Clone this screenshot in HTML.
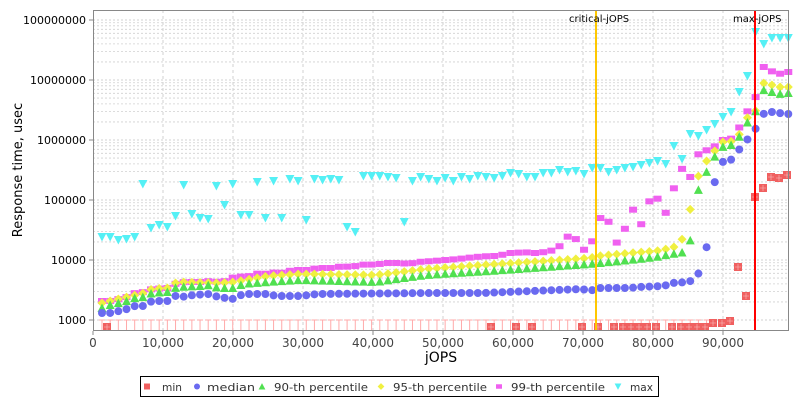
<!DOCTYPE html>
<html><head><meta charset="utf-8"><style>
body{margin:0;background:#fff;width:800px;height:400px;overflow:hidden}
text{font-family:"DejaVu Sans","Liberation Sans",sans-serif}
</style></head><body>
<svg id="s" width="800" height="400" xmlns="http://www.w3.org/2000/svg">
<rect x="93" y="10" width="696" height="321" fill="#fff"/>
<g id="grid"></g>
<g id="pts"></g>
<line x1="596" y1="10" x2="596" y2="331" stroke="#ffc800" stroke-width="2"/>
<line x1="755" y1="10" x2="755" y2="331" stroke="#f00" stroke-width="2"/>
<text x="569" y="22" font-size="10">critical-jOPS</text>
<text x="733" y="22" font-size="10">max-jOPS</text>
<rect x="93.5" y="10.5" width="695" height="320" fill="none" stroke="#888"/>
<text transform="translate(22,170) rotate(-90)" font-size="13" text-anchor="middle">Response time, usec</text>
<text x="441" y="362" font-size="14" text-anchor="middle">jOPS</text>
<rect x="140.5" y="376.5" width="518" height="20" fill="#fff" stroke="#000"/>
<g id="leg" font-size="11" fill="#333"></g>
</svg>
<script>
const NS="http://www.w3.org/2000/svg";
function el(p,t,a){const e=document.createElementNS(NS,t);for(const k in a)e.setAttribute(k,a[k]);p.appendChild(e);return e;}
const g=document.getElementById('grid'),P=document.getElementById('pts'),s=document.getElementById('s'),L=document.getElementById('leg');
for(let d=3;d<=8;d++){const yb=20+(8-d)*60;
 for(let m=1;m<10;m++){const y=yb-Math.log10(m)*60; if(y<10)break;
  el(g,'line',{x1:93,x2:789,y1:y,y2:y,stroke:'#d0d0d0','stroke-dasharray':'2,2','stroke-width':m==1?1:0.8});}
 el(g,'line',{x1:89,x2:93,y1:yb,y2:yb,stroke:'#888'});
 const t=el(s,'text',{x:86,y:yb+4,'font-size':11,'text-anchor':'end'});t.textContent=String(Math.pow(10,d));}
for(let k=0;k<=9;k++){const x=93+k*70;
 if(k>0)el(g,'line',{x1:x,x2:x,y1:10,y2:331,stroke:'#d0d0d0','stroke-dasharray':'3,3'});
 el(g,'line',{x1:x,x2:x,y1:331,y2:335,stroke:'#888'});
 const t=el(s,'text',{x:x,y:347,'font-size':12,'text-anchor':'middle',fill:'#444'});t.textContent=k==0?'0':(k*10)+',000';}
const X=[];for(let i=0;i<85;i++)X.push(102+i*8.17);
function interp(kp,x){if(x<=kp[0][0])return kp[0][1];for(let i=1;i<kp.length;i++)if(x<=kp[i][0]){const a=kp[i-1],b=kp[i];return a[1]+(b[1]-a[1])*(x-a[0])/(b[0]-a[0]);}return kp[kp.length-1][1];}
const med=[[102,313],[110,313],[119,311],[127,309],[135,306],[144,306],[152,301],[168,301],[177,295],[185,297],[193,295],[210,294],[218,297],[234,299],[243,294],[268,294],[276,296],[301,296],[317,294],[433,293],[483,293],[532,291],[582,289],[590,291],[598,288],[630,288],[639,287],[664,286],[672,283],[689,282],[697,276],[705,262],[713,187],[722,162],[730,161],[738,151],[747,140],[755,130],[763,114],[772,112],[779,113],[787,114]];
const g90=[[102,308],[110,305],[119,303],[127,301],[135,298],[144,297],[152,293],[168,292],[177,287],[201,286],[210,285],[218,288],[234,288],[243,284],[268,282],[301,280],[376,282],[426,275],[490,271],[590,264],[630,260],[656,257],[672,254],[681,253],[689,249],[697,193],[705,175],[713,159],[722,147],[730,146],[738,139],[747,123],[755,113],[763,90],[772,92],[779,94],[787,93]];
const g95=[[102,303],[110,301],[127,297],[144,293],[152,289],[168,288],[177,282],[218,283],[234,282],[268,276],[301,274],[376,275],[426,269],[483,265],[590,258],[598,256],[630,253],[656,251],[672,248],[681,243],[689,215],[697,179],[705,163],[713,153],[722,142],[730,142],[738,137],[747,118],[755,113],[763,83],[772,85],[780,87],[787,87]];
const g99=[[102,301],[110,301],[119,299],[127,297],[135,293],[144,292],[152,289],[168,288],[177,283],[185,282],[201,282],[210,281],[218,282],[226,281],[234,277],[251,276],[259,273],[268,274],[276,272],[284,273],[292,270],[309,270],[317,268],[334,268],[342,266],[350,267],[367,264],[375,265],[384,263],[400,263],[409,264],[417,262],[433,261],[458,259],[475,257],[490,256],[499,256],[507,253],[516,253],[523,252],[532,253],[540,253],[548,251],[557,250],[565,238],[573,234],[582,250],[590,249],[598,221],[606,211],[614,245],[623,237],[631,202],[639,232],[647,204],[656,194],[664,218],[672,194],[681,167],[689,181],[697,155],[705,151],[714,147],[722,140],[730,140],[738,130],[747,112],[755,100],[762,66],[771,71],[779,74],[787,72]];
const maxY=[237,237,240,239,237,184,228,225,227,216,185,214,218,219,186,205,184,215,215,182,218,181,218,179,181,220,179,180,179,180,227,232,176,176,176,177,178,222,181,177,179,181,178,181,177,179,176,177,178,176,173,174,177,177,173,173,170,172,171,174,168,168,172,170,168,167,165,163,161,164,146,159,134,136,130,124,117,112,92,76,32,44,38,38,38];
function mark(p,x,y,c,t,k){k=k||1;
 if(t=='c')el(p,'circle',{cx:x,cy:y,r:4*k,fill:c});
 else if(t=='sq')el(p,'rect',{x:x-4*k,y:y-3*k,width:8*k,height:6*k,fill:c});
 else if(t=='up')el(p,'path',{d:`M${x},${y-4.5*k}L${x+4.5*k},${y+4*k}L${x-4.5*k},${y+4*k}Z`,fill:c});
 else if(t=='tri')el(p,'path',{d:`M${x-4.5*k},${y-4*k}L${x+4.5*k},${y-4*k}L${x},${y+4.5*k}Z`,fill:c});
 else if(t=='dia')el(p,'path',{d:`M${x},${y-4.5*k}L${x+4.5*k},${y}L${x},${y+4.5*k}L${x-4.5*k},${y}Z`,fill:c});
 else if(t=='min'){el(p,'rect',{x:x-4*k,y:y-4*k,width:8*k,height:8*k,fill:c});if(k==1)el(p,'path',{d:`M${x-3},${y}H${x+3}M${x},${y-3}V${y+3}`,stroke:'#fff','stroke-width':0.6,opacity:0.6});}
}
for(let i=0;i<85;i++){const x=X[i];if(x>714)break;
 el(P,'path',{d:`M${x-3},320H${x+3}M${x},320V331`,stroke:'#ffaaaa','stroke-width':1,fill:'none'});}
for(let i=0;i<85;i++)mark(P,X[i],maxY[i],'#55f0f5','tri');
for(const [kp,c,t] of [[g99,'#f060f0','sq'],[g95,'#f0f040','dia'],[g90,'#50e050','up'],[med,'#6a6af0','c']])
 for(let i=0;i<85;i++)mark(P,X[i],interp(kp,X[i]),c,t);
const mins=[[107,327],[491,327],[516,327],[532,327],[582,327],[598,327],[614,327],[623,327],[631,327],[639,327],[647,327],[656,327],[672,327],[681,327],[689,327],[697,327],[705,327],[713,323],[722,323],[730,321],[738,267],[746,296],[755,197],[763,188],[771,177],[779,178],[787,175]];
for(const [x,y] of mins)mark(P,x,y,'#f06060','min');
const li=[[147,162,20,'min','#f06060','min'],[197,207,48,'median','#6a6af0','c'],[262,274,94,'90-th percentile','#50e050','up'],[381,393,94,'95-th percentile','#f0f040','dia'],[499,511,94,'99-th percentile','#f060f0','sq'],[618,630,23,'max','#55f0f5','tri']];
for(const [mx,tx,w,n,c,t] of li){mark(L,mx,386.5,c,t,0.75);const e=el(L,'text',{x:tx,y:391,textLength:w,lengthAdjust:'spacingAndGlyphs'});e.textContent=n;}
</script>
</body></html>
